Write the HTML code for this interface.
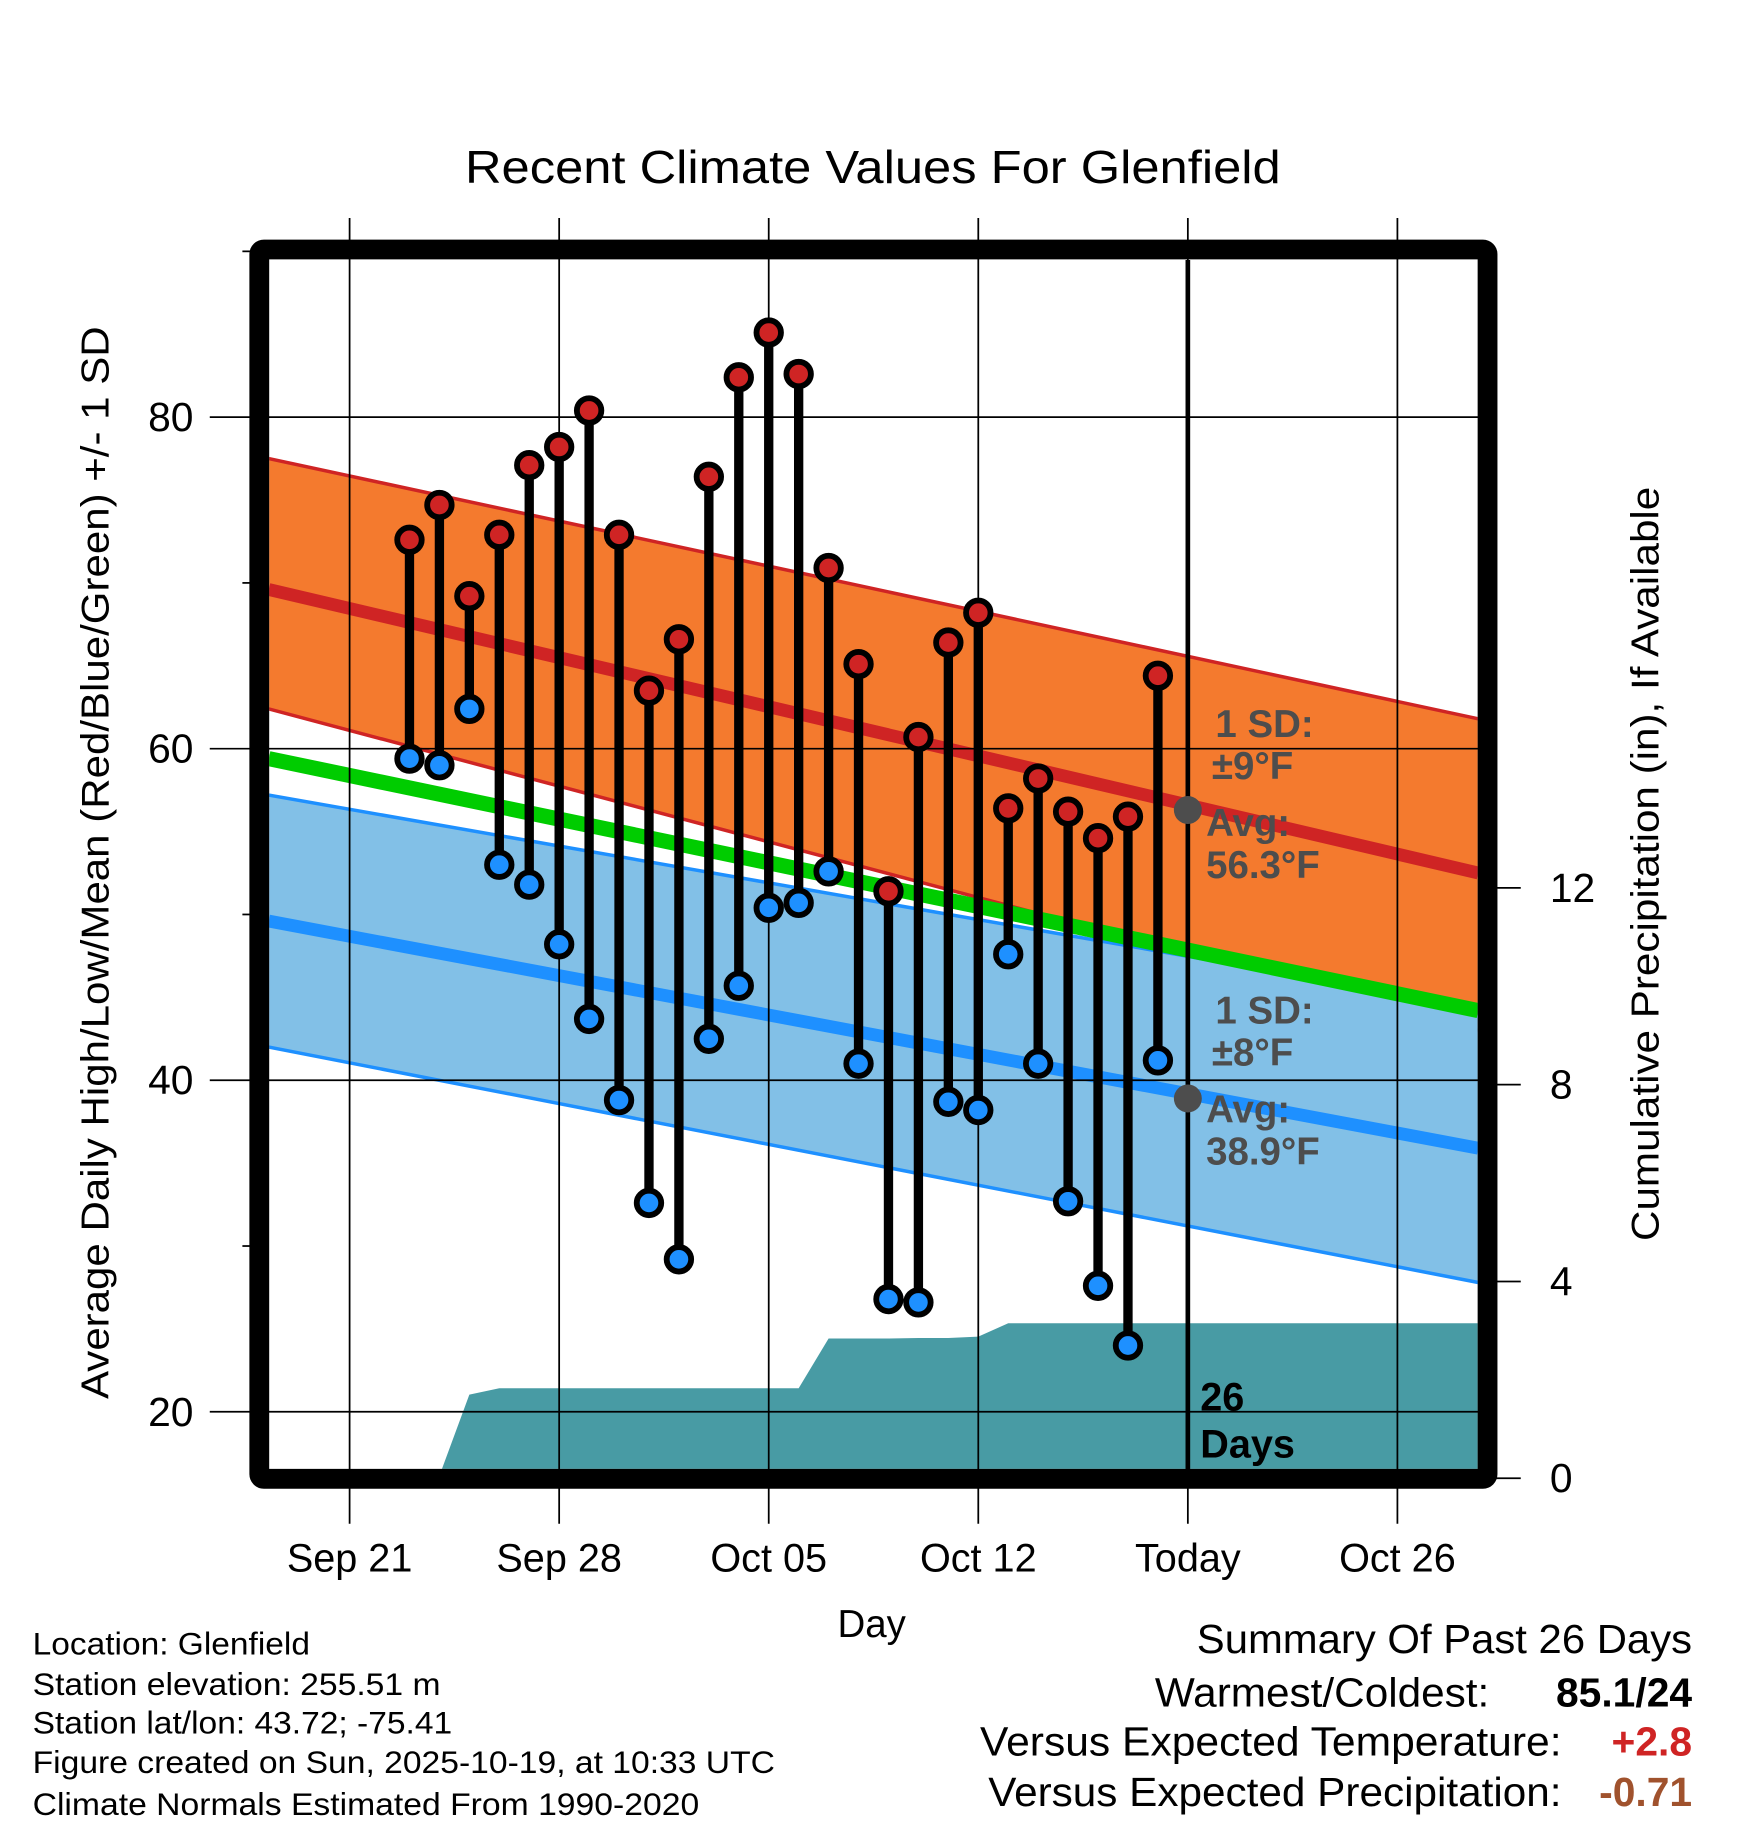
<!DOCTYPE html>
<html><head><meta charset="utf-8"><style>
html,body{margin:0;padding:0;background:#fff;}
svg{display:block;}
text{font-family:"Liberation Sans",sans-serif;}
</style></head><body>
<svg id="chart" width="1748" height="1828" viewBox="0 0 1500 1568" preserveAspectRatio="none" xmlns="http://www.w3.org/2000/svg">
<defs><clipPath id="plotclip"><rect x="231" y="223" width="1037" height="1037"/></clipPath></defs>
<g id="plot" clip-path="url(#plotclip)"></g>
<g id="overlay"></g>
<text x="749" y="157" font-size="40" text-anchor="middle" textLength="700" lengthAdjust="spacingAndGlyphs">Recent Climate Values For Glenfield</text>
<text transform="translate(93,740) rotate(-90)" font-size="33" text-anchor="middle" textLength="920" lengthAdjust="spacingAndGlyphs">Average Daily High/Low/Mean (Red/Blue/Green) +/- 1 SD</text>
<text transform="translate(1423,741) rotate(-90)" font-size="33" text-anchor="middle" textLength="647" lengthAdjust="spacingAndGlyphs">Cumulative Precipitation (in), If Available</text>
<text x="748" y="1404" font-size="33" text-anchor="middle">Day</text>
<g font-size="27">
<text x="28" y="1419" textLength="238" lengthAdjust="spacingAndGlyphs">Location: Glenfield</text>
<text x="28" y="1454" textLength="350" lengthAdjust="spacingAndGlyphs">Station elevation: 255.51 m</text>
<text x="28" y="1487" textLength="360" lengthAdjust="spacingAndGlyphs">Station lat/lon: 43.72; -75.41</text>
<text x="28" y="1521" textLength="637" lengthAdjust="spacingAndGlyphs">Figure created on Sun, 2025-10-19, at 10:33 UTC</text>
<text x="28" y="1557" textLength="572" lengthAdjust="spacingAndGlyphs">Climate Normals Estimated From 1990-2020</text>
</g>
<g font-size="35">
<text x="1027" y="1418" textLength="425" lengthAdjust="spacingAndGlyphs">Summary Of Past 26 Days</text>
<text x="991" y="1464" textLength="287" lengthAdjust="spacingAndGlyphs">Warmest/Coldest:</text>
<text x="1452" y="1464" font-weight="bold" text-anchor="end">85.1/24</text>
<text x="841" y="1506" textLength="499" lengthAdjust="spacingAndGlyphs">Versus Expected Temperature:</text>
<text x="1452" y="1506" font-weight="bold" fill="#cf2424" text-anchor="end">+2.8</text>
<text x="848" y="1549" textLength="492" lengthAdjust="spacingAndGlyphs">Versus Expected Precipitation:</text>
<text x="1452" y="1549" font-weight="bold" fill="#a0522d" text-anchor="end">-0.71</text>
</g>
</svg>
<script>
// ---- data ----
const xTickLabels = ["Sep 21","Sep 28","Oct 05","Oct 12","Today","Oct 26"];
const xTickDays = [0,7,14,21,28,35];
const yTickLabels = ["20","40","60","80"];
const yTickValues = [20,40,60,80];
const yMinorValues = [30,50,70,90];
const precipTickLabels = ["0","4","8","12"];
const precipTickValues = [0,4,8,12];
const obsDays = [2,3,4,5,6,7,8,9,10,11,12,13,14,15,16,17,18,19,20,21,22,23,24,25,26,27];
const highs = [72.6,74.7,69.2,72.9,77.1,78.2,80.4,72.9,63.5,66.6,76.4,82.4,85.1,82.6,70.9,65.1,51.4,60.7,66.4,68.2,56.4,58.2,56.2,54.6,55.9,64.4];
const lows  = [59.4,59.0,62.4,53.0,51.8,48.2,43.7,38.8,32.6,29.2,42.5,45.7,50.4,50.7,52.6,41.0,26.8,26.6,38.7,38.2,47.6,41.0,32.7,27.6,24.0,41.2];
const precipDays = [-2.7,0,1,2,3,4,5,6,7,8,9,10,11,12,13,14,15,16,17,18,19,20,21,22,23,24,25,26,27,37.7];
const precipCum  = [0,0,0,0.03,0.05,1.7,1.83,1.83,1.83,1.83,1.83,1.83,1.83,1.83,1.83,1.83,1.83,2.84,2.84,2.84,2.85,2.85,2.88,3.15,3.15,3.15,3.15,3.15,3.15,3.15];
const normDays = [-2.7,37.7];
const highAvg = [69.6,52.5];
const highUpper = [77.5,61.8];
const highLower = [62.4,43.0];
const meanAvg = [59.4,44.2];
const lowAvg = [49.6,35.9];
const lowUpper = [57.2,44.4];
const lowLower = [42.0,27.8];
const todayHighAvg = 56.3;
const todayLowAvg = 38.9;
const todayDay = 28;

// ---- axes ----
const NS="http://www.w3.org/2000/svg";
function X(d){return 300+d*25.69;}
function Y(v){return 357.8+(80-v)*14.22;}
function P(p){return 1268-p*42.2;}
function mk(tag,attrs,parent){const e=document.createElementNS(NS,tag);for(const k in attrs)e.setAttribute(k,attrs[k]);parent.appendChild(e);return e;}
const svg=document.getElementById('chart');
const plot=document.getElementById('plot');
const ov=document.getElementById('overlay');

function band(up,lo){let pts=[];for(let i=0;i<normDays.length;i++)pts.push(X(normDays[i])+","+Y(up[i]));for(let i=normDays.length-1;i>=0;i--)pts.push(X(normDays[i])+","+Y(lo[i]));return pts.join(" ");}
function line(arr){return normDays.map((d,i)=>X(d)+","+Y(arr[i])).join(" ");}

let e;
e=mk('polygon',{points:band(highUpper,highLower),fill:'#f47a2e'},plot);


e=mk('polyline',{points:line(highUpper),fill:'none',stroke:'#cf2424','stroke-width':3},plot);


e=mk('polyline',{points:line(highLower),fill:'none',stroke:'#cf2424','stroke-width':3},plot);


e=mk('polygon',{points:band(lowUpper,lowLower),fill:'#82c0e7'},plot);


e=mk('polyline',{points:line(lowUpper),fill:'none',stroke:'#1e90ff','stroke-width':3},plot);


e=mk('polyline',{points:line(lowLower),fill:'none',stroke:'#1e90ff','stroke-width':3},plot);


e=mk('polyline',{points:line(meanAvg),fill:'none',stroke:'#00cc00','stroke-width':13},plot);


e=mk('polyline',{points:line(highAvg),fill:'none',stroke:'#cf2424','stroke-width':11},plot);


e=mk('polyline',{points:line(lowAvg),fill:'none',stroke:'#1e90ff','stroke-width':11},plot);



// precipitation
let pp=[X(precipDays[0])+","+P(0)];
precipDays.forEach((d,i)=>pp.push(X(d)+","+P(precipCum[i])));
pp.push(X(precipDays[precipDays.length-1])+","+P(0));
e=mk('polygon',{points:pp.join(" "),fill:'#489ba4'},plot);



// grid
yTickValues.forEach(v=>{
  const g=mk('line',{x1:217,x2:1283,y1:Y(v),y2:Y(v),stroke:'#000','stroke-width':1.5},ov);
  
  
  const t=mk('line',{x1:180,x2:217,y1:Y(v),y2:Y(v),stroke:'#000','stroke-width':1.5},ov);
  
  
});
yMinorValues.forEach(v=>{
  const t=mk('line',{x1:208,x2:217,y1:Y(v),y2:Y(v),stroke:'#000','stroke-width':1.5},ov);
  
  
});
xTickDays.forEach((d,i)=>{
  const g=mk('line',{x1:X(d),x2:X(d),y1:187,y2:1307,stroke:'#000','stroke-width':1.5},ov);
  
  
  const t=mk('text',{x:X(d),y:1348,'font-size':34,'text-anchor':'middle'},ov);
  t.textContent=xTickLabels[i];
  
  
});
yTickValues.forEach((v,i)=>{
  const t=mk('text',{x:166,y:Y(v)+12,'font-size':35,'text-anchor':'end'},ov);
  t.textContent=yTickLabels[i];
  
  
});
precipTickValues.forEach((v,i)=>{
  const l=mk('line',{x1:1283,x2:1305,y1:P(v),y2:P(v),stroke:'#000','stroke-width':1.5},ov);
  
  
  const t=mk('text',{x:1330,y:P(v)+12,'font-size':35},ov);
  t.textContent=precipTickLabels[i];
  
  
});

// today line
e=mk('line',{x1:X(todayDay),x2:X(todayDay),y1:223,y2:1262,stroke:'#000','stroke-width':4},ov);



// bars
obsDays.forEach((d,i)=>{
  const x=X(d);
  const s=mk('line',{x1:x,x2:x,y1:Y(highs[i]),y2:Y(lows[i]),stroke:'#000','stroke-width':8},ov);
  
  
  const h=mk('circle',{cx:x,cy:Y(highs[i]),r:10.5,fill:'#cf2424',stroke:'#000','stroke-width':5},ov);
  
  
  const l=mk('circle',{cx:x,cy:Y(lows[i]),r:10.5,fill:'#1e90ff',stroke:'#000','stroke-width':5},ov);
  
  
});

// today normals markers + annotations
e=mk('circle',{cx:X(todayDay),cy:Y(todayHighAvg),r:12,fill:'#4d4d4d'},ov);


e=mk('circle',{cx:X(todayDay),cy:Y(todayLowAvg),r:12,fill:'#4d4d4d'},ov);


function ann(x,y,txt,col,size){const t=mk('text',{x:x,y:y,'font-size':size||33,'font-weight':'bold',fill:col||'#4d4d4d'},ov);t.textContent=txt;return t;}
let a;
a=ann(1043,632,"1 SD:");


a=ann(1040,668,"±9°F");


a=ann(1035,717,"Avg:");


a=ann(1035,753,todayHighAvg+"°F");


a=ann(1043,878,"1 SD:");


a=ann(1040,914,"±8°F");


a=ann(1035,963,"Avg:");


a=ann(1035,999,todayLowAvg+"°F");


a=ann(1030,1210,"26",'#000',34);


a=ann(1030,1250,"Days",'#000',34);



// frame
e=mk('rect',{x:222.5,y:214,width:1054,height:1054.5,fill:'none',stroke:'#000','stroke-width':17,rx:4},ov);


</script>
</body></html>
